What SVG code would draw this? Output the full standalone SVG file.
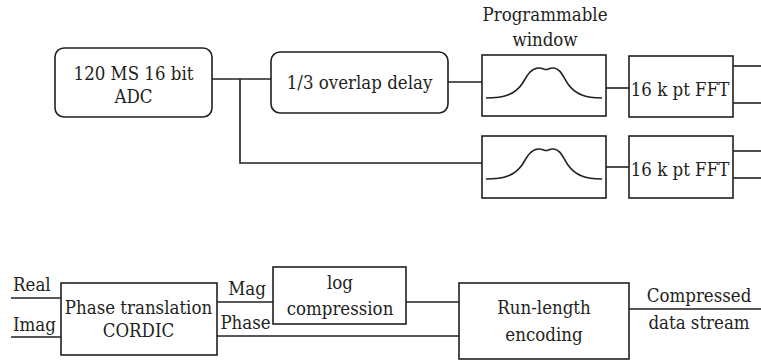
<svg xmlns="http://www.w3.org/2000/svg" width="761" height="362" viewBox="0 0 761 362">
  <style>
    .box { fill: #fff; stroke: #231f20; stroke-width: 1.6; }
    .wire { fill: none; stroke: #231f20; stroke-width: 1.6; }
    .curve { fill: none; stroke: #231f20; stroke-width: 1.6; }
    text { font-family: "DejaVu Serif Condensed", "DejaVu Serif", serif; font-stretch: condensed; font-size: 18.5px; fill: #231f20; }
    .c { text-anchor: middle; }
  </style>
  <defs>
    <!-- window shape: flat-topped bell with a slight central dip -->
    <path id="bell" d="M486,98 C505,98 515,94 522,84 C527,76 530,69 538,68 C542,67.5 544,69.5 546,69.5 C548,69.5 550,67.5 554,68 C561,69 563,77 568,84 C575,94 585,98 602,98"/>
  </defs>

  <!-- connectors -->
  <g id="connectors">
    <polyline class="wire" points="212,79 271,79"/>
    <polyline class="wire" points="240,79 240,163 482,163"/>
    <polyline class="wire" points="448,82 482,82"/>
    <polyline class="wire" points="606,88 629,88"/>
    <polyline class="wire" points="606,167 629,167"/>
    <polyline class="wire" points="733,66 761,66"/>
    <polyline class="wire" points="733,103 761,103"/>
    <polyline class="wire" points="733,151 761,151"/>
    <polyline class="wire" points="733,178 761,178"/>
    <polyline class="wire" points="11,298 61,298"/>
    <polyline class="wire" points="11,337 61,337"/>
    <polyline class="wire" points="217,302 273,302"/>
    <polyline class="wire" points="217,336 459,336"/>
    <polyline class="wire" points="406,302 459,302"/>
    <polyline class="wire" points="629,309 761,309"/>
  </g>

  <g id="adc">
    <rect class="box" x="55" y="48" width="157" height="69" rx="9"/>
    <text class="c" x="133.5" y="80">120 MS 16 bit</text>
    <text class="c" x="133.5" y="103">ADC</text>
  </g>

  <g id="overlap-delay">
    <rect class="box" x="271" y="52" width="177" height="61" rx="9"/>
    <text class="c" x="359.5" y="89">1/3 overlap delay</text>
  </g>

  <g id="window-label">
    <text class="c" x="545" y="21">Programmable</text>
    <text class="c" x="545" y="46">window</text>
  </g>

  <g id="window-1">
    <rect class="box" x="482" y="55" width="124" height="61"/>
    <use href="#bell" class="curve"/>
  </g>

  <g id="window-2">
    <rect class="box" x="482" y="136" width="124" height="62"/>
    <use href="#bell" class="curve" transform="translate(0,81)"/>
  </g>

  <g id="fft-1">
    <rect class="box" x="629" y="56" width="104" height="61"/>
    <text class="c" x="680" y="96">16 k pt FFT</text>
  </g>

  <g id="fft-2">
    <rect class="box" x="629" y="136" width="104" height="62"/>
    <text class="c" x="680" y="176">16 k pt FFT</text>
  </g>

  <g id="io-labels">
    <text x="13" y="291">Real</text>
    <text x="13" y="331">Imag</text>
    <text class="c" x="247" y="295">Mag</text>
    <text class="c" x="245.5" y="329">Phase</text>
    <text class="c" x="699" y="302">Compressed</text>
    <text class="c" x="699" y="329">data stream</text>
  </g>

  <g id="cordic">
    <rect class="box" x="61" y="283" width="156" height="72"/>
    <text class="c" x="138.5" y="314">Phase translation</text>
    <text class="c" x="138.5" y="337">CORDIC</text>
  </g>

  <g id="log-compression">
    <rect class="box" x="273" y="267" width="133" height="57"/>
    <text class="c" x="340" y="289">log</text>
    <text class="c" x="340" y="315">compression</text>
  </g>

  <g id="run-length">
    <rect class="box" x="459" y="283" width="170" height="76"/>
    <text class="c" x="544" y="314">Run-length</text>
    <text class="c" x="544" y="341">encoding</text>
  </g>
</svg>
